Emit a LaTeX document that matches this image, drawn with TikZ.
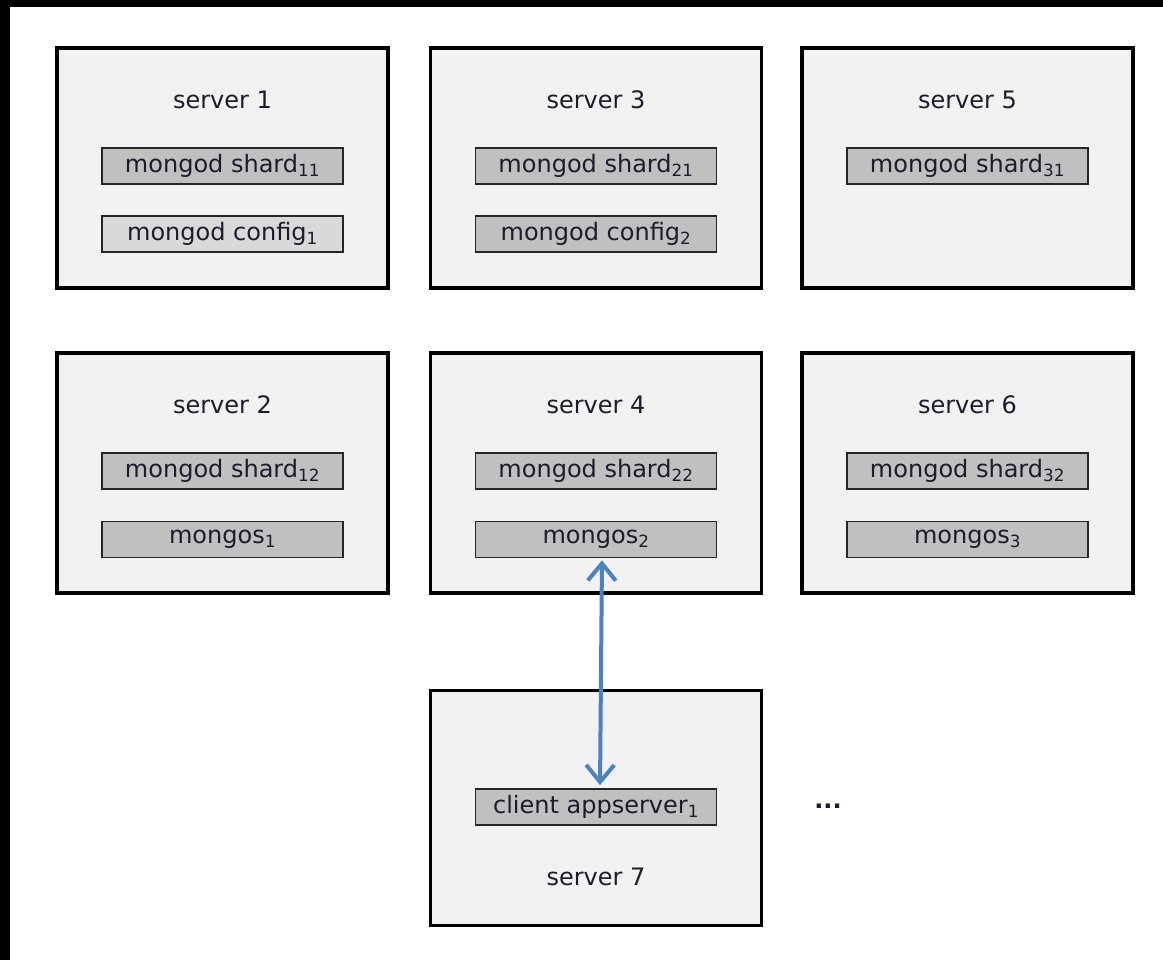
\documentclass[tikz,border=0pt]{standalone}
\usepackage{fontspec}
\setmainfont{DejaVu Sans}
\usetikzlibrary{arrows.meta,positioning}

\definecolor{hostfill}{HTML}{F2F2F2}
\definecolor{procfill}{HTML}{C0C0C0}
\definecolor{cfgfill}{HTML}{D9D9D9}
\definecolor{linkblue}{HTML}{4F81BD}
\definecolor{inkdark}{HTML}{1C1C2A}

\tikzset{
  host/.style={draw=black, line width=3.5pt, fill=hostfill, minimum width=331pt, minimum height=240pt, inner sep=0pt},
  proc/.style={draw=black!85, line width=1.8pt, fill=procfill, minimum width=241pt, minimum height=36pt, inner sep=0pt},
  cfg/.style={proc, fill=cfgfill},
  hostname/.style={inner sep=0pt},
  link/.style={draw=linkblue, line width=4pt, {Straight Barb[length=17pt,width=28pt]}-{Straight Barb[length=17pt,width=28pt]}}
}

\begin{document}
\begin{tikzpicture}[x=1pt, y=-1pt, font=\fontsize{24}{29}\selectfont, text=inkdark]
% canvas and screenshot edges
\fill[white] (0,0) rectangle (1163,960);
\fill[black] (0,0) rectangle (1163,7);
\fill[black] (0,0) rectangle (10,960);

% server boxes
\foreach \n/\x/\y in {1/222.5/168, 3/596/168, 5/967.5/168, 2/222.5/473, 4/596/473, 6/967.5/473} {
  \node[host] (s\n) at (\x,\y) {};
  \node[hostname] (t\n) at (\x,\y-68) {server \n};
}
\node[host, minimum height=235pt] (s7) at (596,808) {};
\node[hostname] (t7) at (596,877) {server 7};

% processes
\node[proc] (sh11) at (222.5,166) {mongod shard\textsubscript{11}};
\node[cfg]  (cf1)  at (222.5,234) {mongod config\textsubscript{1}};
\node[proc] (sh21) at (596,166) {mongod shard\textsubscript{21}};
\node[proc] (cf2)  at (596,234) {mongod config\textsubscript{2}};
\node[proc] (sh31) at (967.5,166) {mongod shard\textsubscript{31}};
\node[proc] (sh12) at (222.5,471) {mongod shard\textsubscript{12}};
\node[proc] (ms1)  at (222.5,539.5) {mongos\textsubscript{1}};
\node[proc] (sh22) at (596,471) {mongod shard\textsubscript{22}};
\node[proc] (ms2)  at (596,539.5) {mongos\textsubscript{2}};
\node[proc] (sh32) at (967.5,471) {mongod shard\textsubscript{32}};
\node[proc] (ms3)  at (967.5,539.5) {mongos\textsubscript{3}};
\node[proc] (app1) at (596,807) {client appserver\textsubscript{1}};
\node[hostname] (more) at (828,806) {\textbf{...}};

% client link
\draw[link, shorten <=2pt, shorten >=3pt] ([xshift=6pt]ms2.south) -- ([xshift=4pt]app1.north);
\end{tikzpicture}
\end{document}
